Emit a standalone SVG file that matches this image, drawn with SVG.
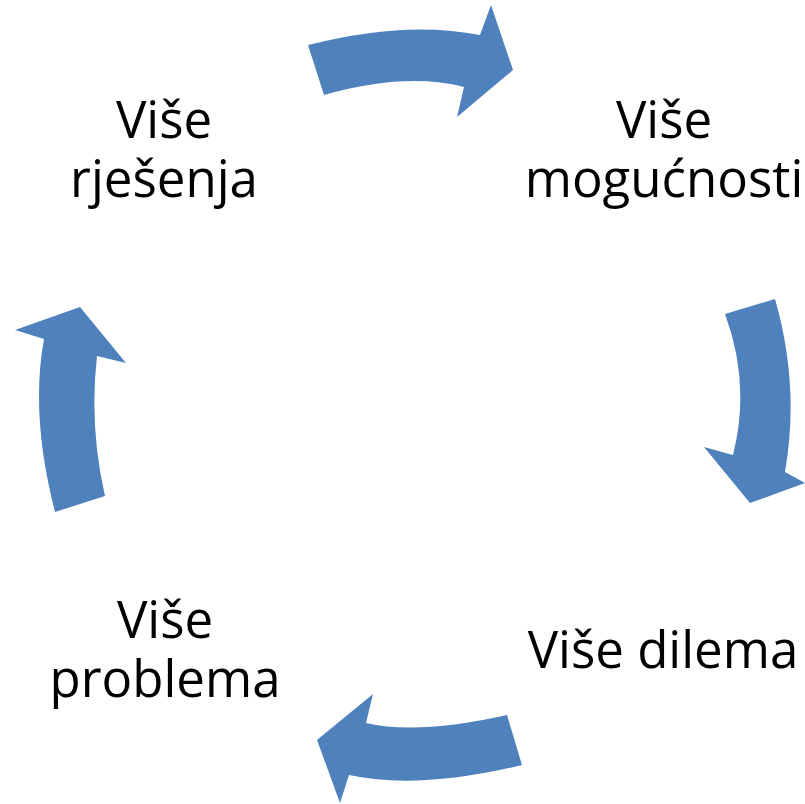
<svg xmlns="http://www.w3.org/2000/svg" width="805" height="804" viewBox="0 0 805 804">
<style>
.arrow{fill:#4F81BD;stroke:none}
.lbl{font-family:"Open Sans","Noto Sans","Liberation Sans",sans-serif;font-size:51px;fill:#000;text-anchor:middle}
</style>
<rect width="805" height="804" fill="#fff"/>
<g id="connectors">
<path id="arrow-top" class="arrow" d="M308,45 Q406,20 480,35 L491,5 L513,70 L457,117 L464,87 Q406,72 324,95 Z"/>
<path id="arrow-right" class="arrow" d="M775,299 Q800,386 785,472 L805,483 L750,503 L704,447 L733,455 Q751,384 725,314 Z"/>
<path id="arrow-bottom" class="arrow" d="M522,765 Q418,790 349,775 L340,803 L317,740 L373,694 L366,723 Q418,735 507,715 Z"/>
<path id="arrow-left" class="arrow" d="M55,512 Q30,415 44,339 L15,330 L80,307 L126,363 L97,356 Q89,426 105,496 Z"/>
</g>
<g id="node-rjesenja">
<text class="lbl" x="164" y="138">Više</text>
<text class="lbl" x="164" y="197">rješenja</text>
</g>
<g id="node-mogucnosti">
<text class="lbl" x="664" y="138">Više</text>
<text class="lbl" x="664" y="197">mogućnosti</text>
</g>
<g id="node-dilema">
<text class="lbl" x="663" y="668">Više dilema</text>
</g>
<g id="node-problema">
<text class="lbl" x="165" y="638">Više</text>
<text class="lbl" x="165" y="697">problema</text>
</g>
</svg>
